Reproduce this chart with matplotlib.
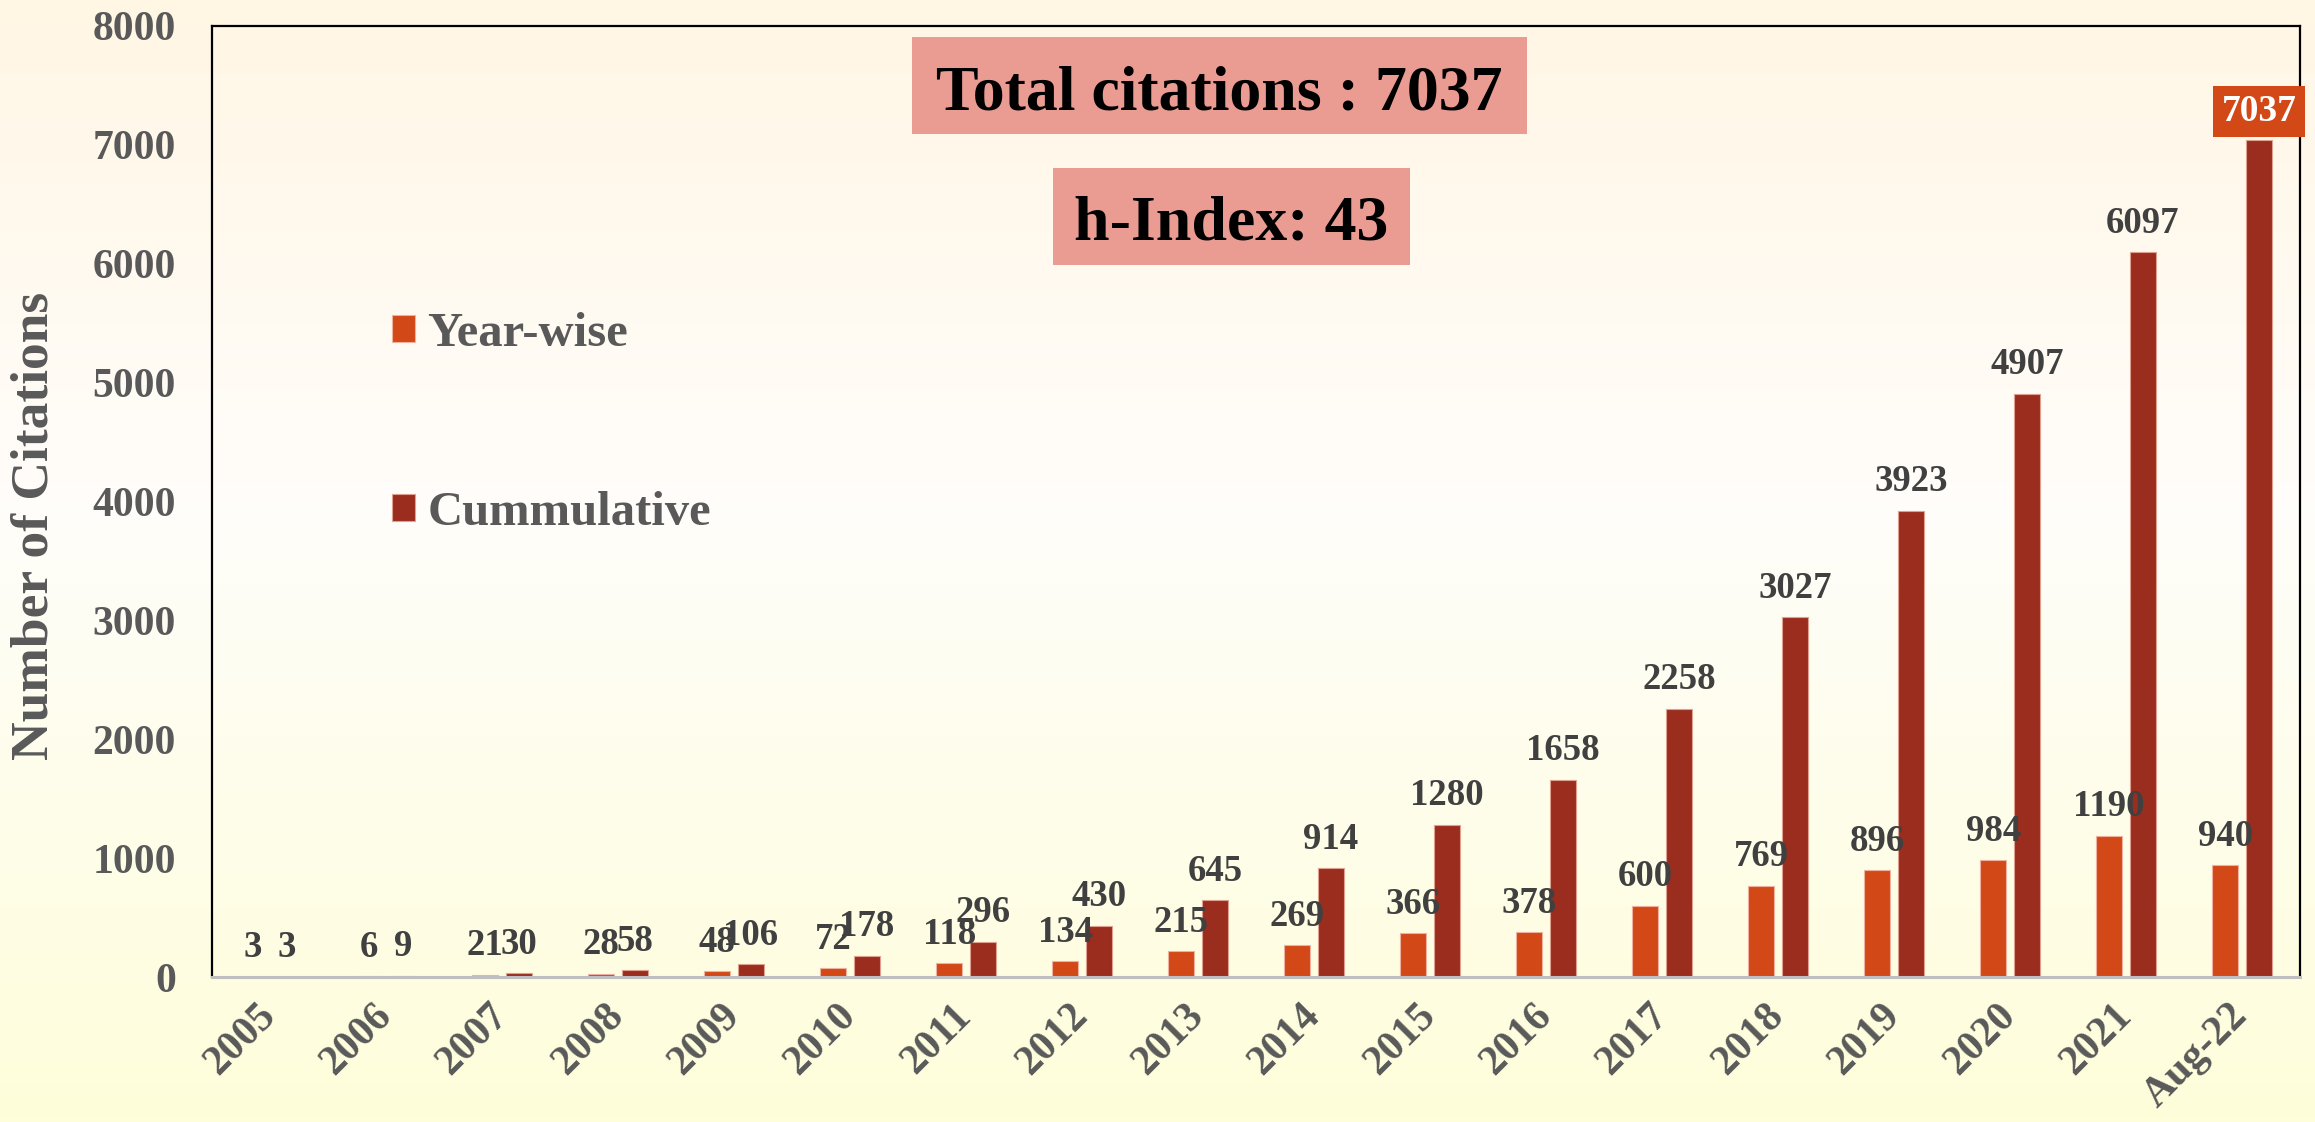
import matplotlib
matplotlib.use("Agg")
import matplotlib.pyplot as plt
import numpy as np
from matplotlib.patches import Rectangle

# data
years = ['2005', '2006', '2007', '2008', '2009', '2010', '2011', '2012', '2013',
         '2014', '2015', '2016', '2017', '2018', '2019', '2020', '2021', 'Aug-22']
year_wise = [3, 6, 21, 28, 48, 72, 118, 134, 215, 269, 366, 378, 600, 769, 896, 984, 1190, 940]
cumulative = [3, 9, 30, 58, 106, 178, 296, 430, 645, 914, 1280, 1658, 2258, 3027, 3923, 4907, 6097, 7037]
total_text = 'Total citations : 7037'
hindex_text = 'h-Index: 43'

plt.rcParams['font.family'] = ['Liberation Serif', 'DejaVu Serif']
plt.rcParams['font.weight'] = 'bold'
plt.rcParams['axes.labelweight'] = 'bold'

W, H = 2315, 1122
fig = plt.figure(figsize=(W / 100, H / 100), dpi=100)

# background gradient (cream top -> white -> pale yellow bottom)
bg = fig.add_axes([0, 0, 1, 1], zorder=-10)
t = np.linspace(0, 1, 256)[:, None]
top = np.array([255, 246, 228]) / 255
mid = np.array([255, 253, 250]) / 255
bot = np.array([254, 254, 218]) / 255
grad = np.where(t < 0.45, top + (mid - top) * (t / 0.45),
                mid + (bot - mid) * ((t - 0.45) / 0.55))
bg.imshow(grad[:, None, :].repeat(2, axis=1), aspect='auto', extent=[0, 1, 0, 1])
bg.axis('off')

ax = fig.add_axes([212 / W, 1 - 977 / H, (2300 - 212) / W, (977 - 26) / H])
ax.set_facecolor('none')

c_year = '#D34817'
c_cum = '#9B2D1F'
x = np.arange(len(years))
bw = 0.224
off = 0.145
b1 = ax.bar(x - off, year_wise, bw, color=c_year, edgecolor='#F0B0A0', linewidth=0.8, label='Year-wise')
b2 = ax.bar(x + off, cumulative, bw, color=c_cum, edgecolor='#E0A090', linewidth=0.8, label='Cummulative')

ax.set_xlim(-0.5, len(years) - 0.5)
ax.set_ylim(0, 8000)
ax.set_yticks(np.arange(0, 8001, 1000))
ax.tick_params(axis='y', length=0, pad=26, labelsize=30, labelcolor='#595959')
ax.set_xticks(x)
ax.set_xticklabels(years)
ax.tick_params(axis='x', length=0, pad=24, labelsize=30, labelcolor='#595959')
for lab in ax.get_xticklabels():
    lab.set_rotation(45)
    lab.set_rotation_mode('anchor')
    lab.set_ha('right')
    lab.set_va('center')

for s in ['left', 'top', 'right']:
    ax.spines[s].set_color('black')
    ax.spines[s].set_linewidth(1.6)
ax.spines['bottom'].set_color('#BFBFBF')
ax.spines['bottom'].set_linewidth(2.2)

ax.set_ylabel('Number of Citations', fontsize=38.5, color='#595959')
ax.yaxis.set_label_coords(-0.0735, 0.474)

# data labels
for xi, v in zip(x, year_wise):
    ax.annotate(str(v), (xi - off, v), xytext=(0, 14), textcoords='offset points',
                ha='center', va='baseline', fontsize=26.5, color='#404040')
for i, (xi, v) in enumerate(zip(x, cumulative)):
    if i == len(cumulative) - 1:
        ax.annotate(str(v), (xi + off, v), xytext=(0, 14), textcoords='offset points',
                    ha='center', va='baseline', fontsize=27, color='white',
                    bbox=dict(boxstyle='square,pad=0.22', fc=c_year, ec='none'),
                    annotation_clip=False)
    else:
        ax.annotate(str(v), (xi + off, v), xytext=(0, 14), textcoords='offset points',
                    ha='center', va='baseline', fontsize=26.5, color='#404040')

# legend
ax.legend(handles=[b1, b2], loc='upper left', bbox_to_anchor=(392 / W, 1 - 312 / H),
          bbox_transform=fig.transFigure, frameon=False, fontsize=35,
          labelcolor='#595959', handlelength=0.48, handleheight=0.48,
          handletextpad=0.25, labelspacing=2.78, borderpad=0, borderaxespad=0)

# info boxes
box_c = '#EA9C92'
fig.patches.append(Rectangle((912 / W, 1 - 134 / H), 615 / W, 97 / H,
                             transform=fig.transFigure, fc=box_c, ec='none', zorder=5))
fig.text(1219.5 / W, 1 - 110 / H, total_text, ha='center', va='baseline',
         fontsize=46, color='black', zorder=6)
fig.patches.append(Rectangle((1053 / W, 1 - 265 / H), 357 / W, 97 / H,
                             transform=fig.transFigure, fc=box_c, ec='none', zorder=5))
fig.text(1231.5 / W, 1 - 240 / H, hindex_text, ha='center', va='baseline',
         fontsize=46, color='black', zorder=6)

fig.savefig('out.png', dpi=100)
